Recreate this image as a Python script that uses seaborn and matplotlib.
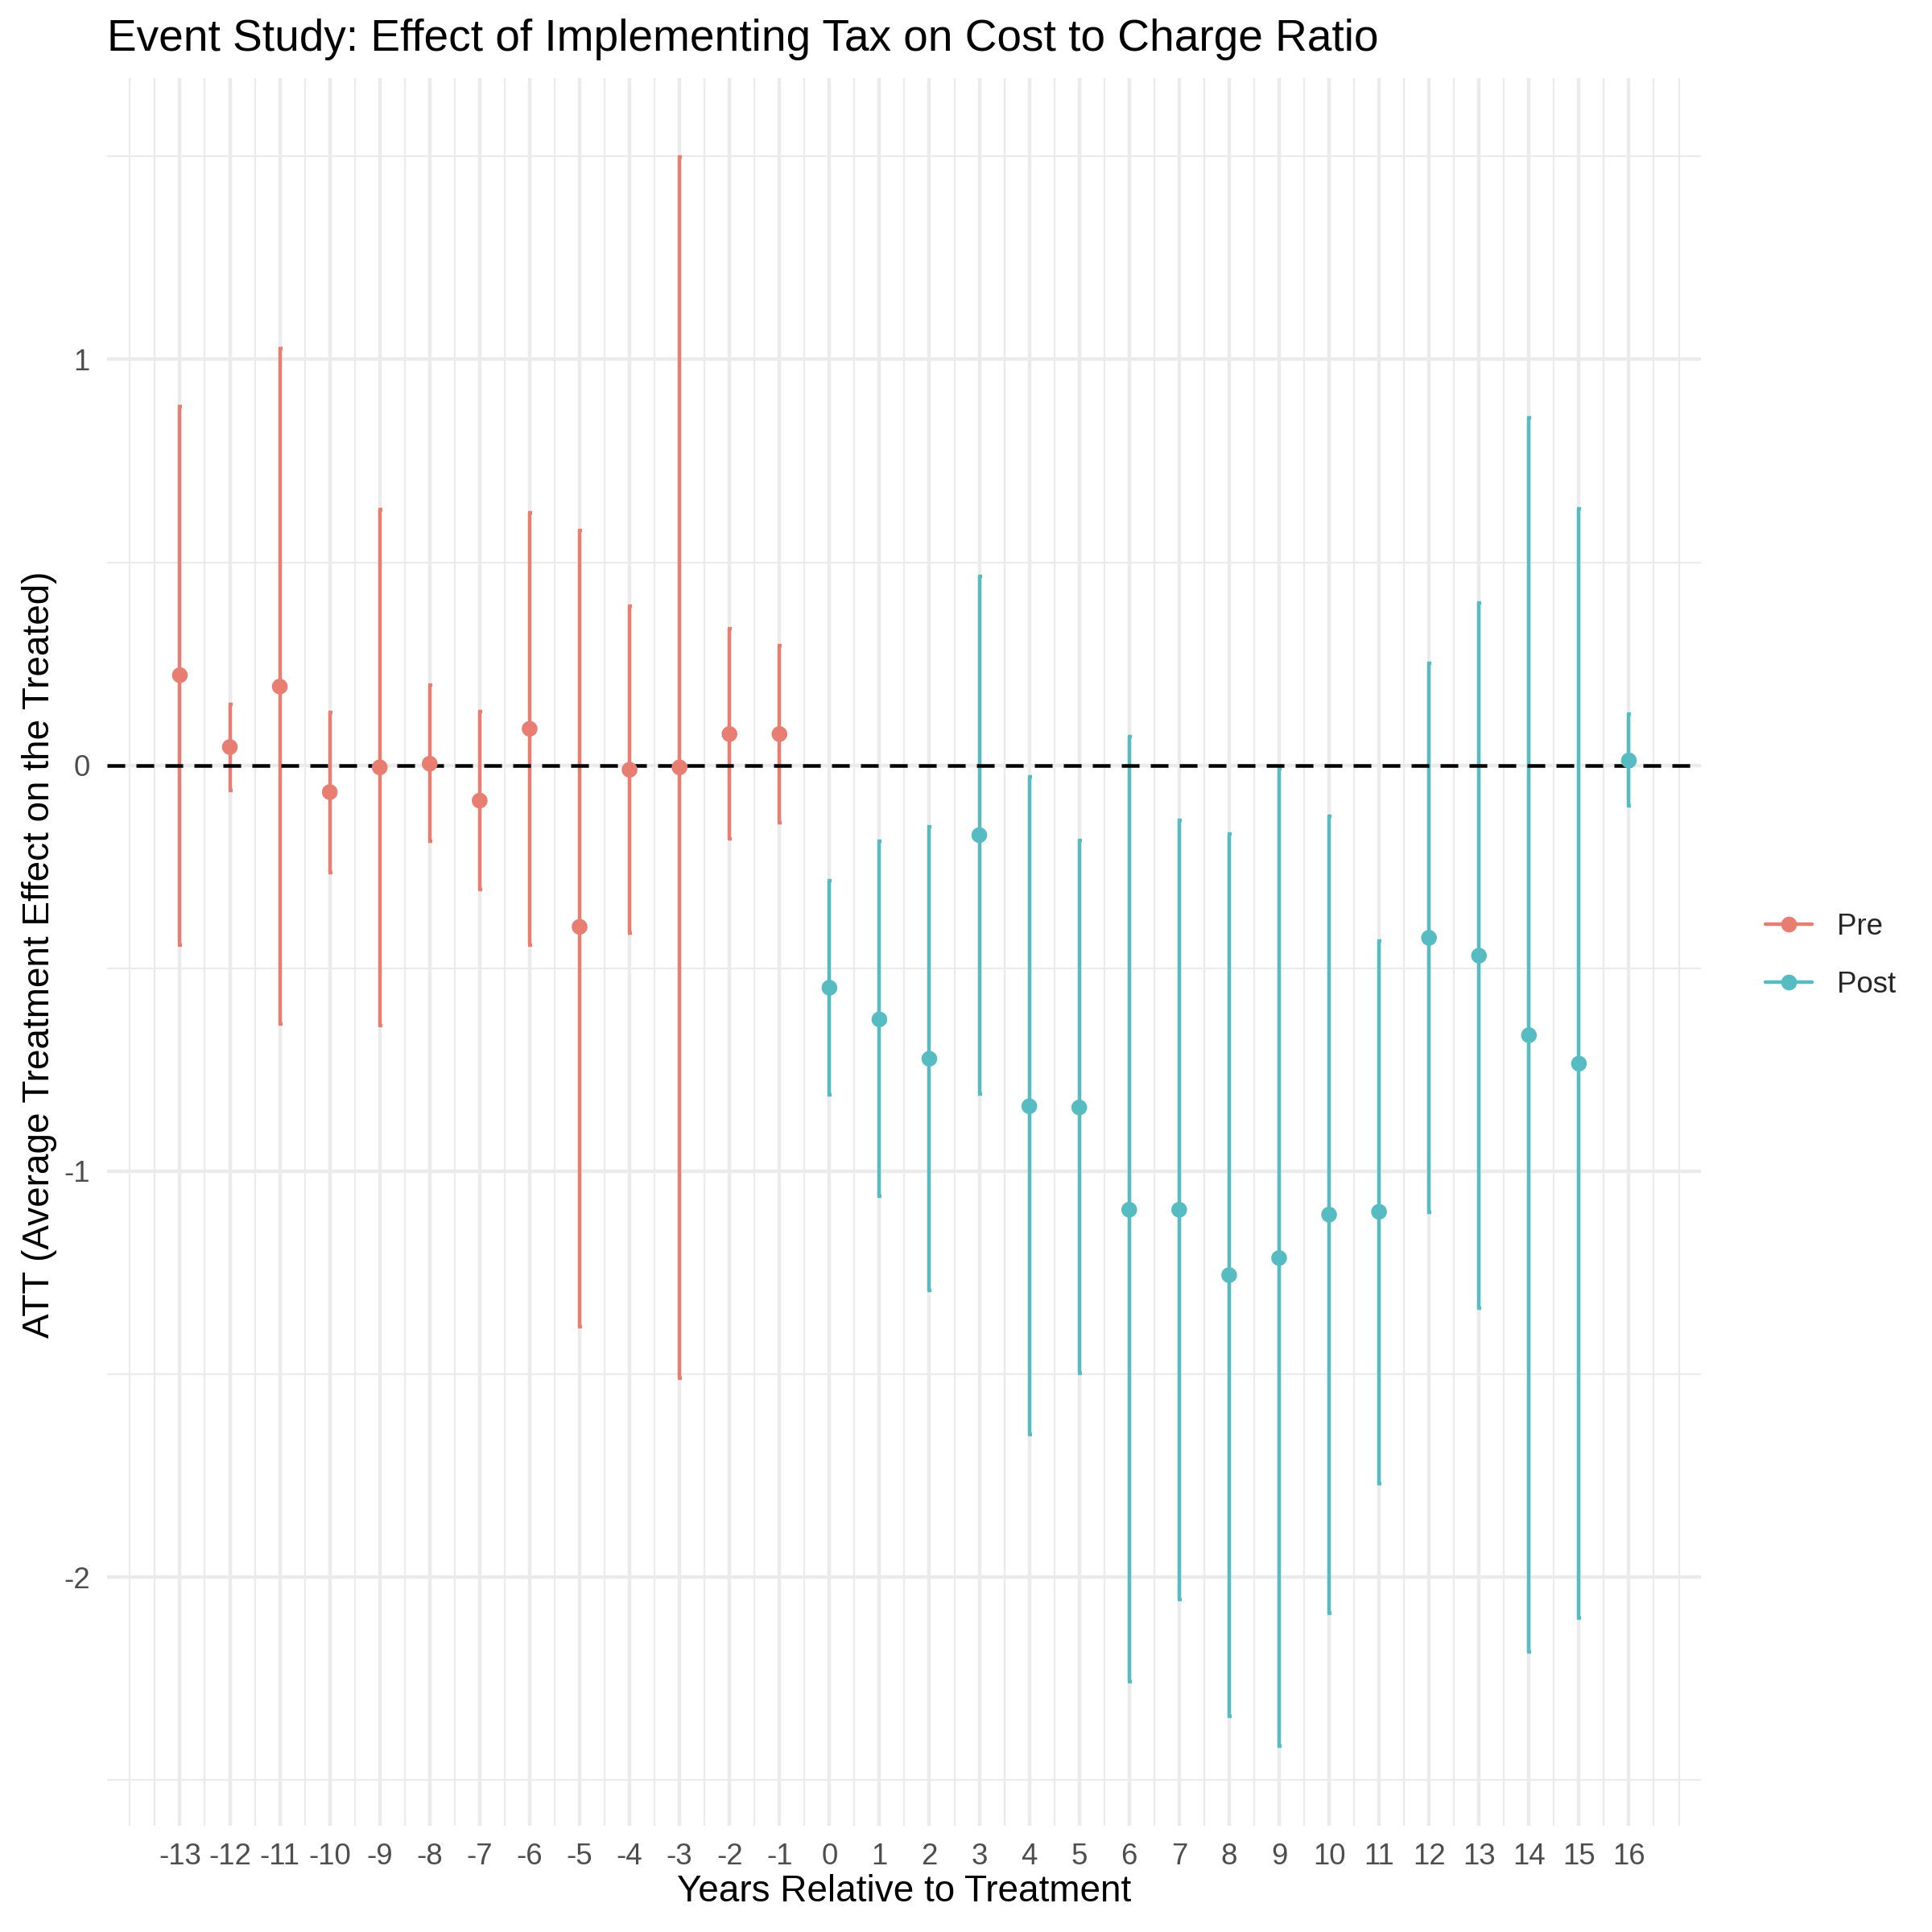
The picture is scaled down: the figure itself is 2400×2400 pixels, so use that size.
import numpy as np
import pandas as pd
import matplotlib
matplotlib.use('Agg')
import matplotlib.pyplot as plt
import seaborn as sns
from matplotlib.lines import Line2D

# event-study estimates
rel_years = [-13, -12, -11, -10, -9, -8, -7, -6, -5, -4, -3, -2, -1,
             0, 1, 2, 3, 4, 5, 6, 7, 8, 9, 10, 11, 12, 13, 14, 15, 16]
att = [0.222, 0.045, 0.194, -0.066, -0.005, 0.004, -0.087, 0.090, -0.398, -0.011, -0.005, 0.077, 0.077,
       -0.548, -0.626, -0.723, -0.172, -0.840, -0.843, -1.095, -1.095, -1.256, -1.214, -1.107, -1.100,
       -0.425, -0.469, -0.665, -0.735, 0.012]
ci_low = [-0.443, -0.063, -0.638, -0.264, -0.641, -0.187, -0.307, -0.443, -1.382, -0.413, -1.509, -0.182, -0.142,
          -0.811, -1.062, -1.294, -0.809, -1.648, -1.499, -2.258, -2.055, -2.343, -2.416, -2.090, -1.770,
          -1.101, -1.338, -2.184, -2.100, -0.099]
ci_high = [0.883, 0.151, 1.026, 0.131, 0.630, 0.197, 0.132, 0.622, 0.579, 0.392, 1.498, 0.336, 0.295,
           -0.284, -0.187, -0.152, 0.466, -0.029, -0.185, 0.070, -0.135, -0.170, -0.009, -0.126, -0.433,
           0.252, 0.401, 0.856, 0.633, 0.126]
periods = ['Pre', 'Post']
colors = {'Pre': '#E87D72', 'Post': '#56BCC2'}
x_tick_labels = [str(v) for v in rel_years]
y_ticks = [-2, -1, 0, 1]
y_tick_labels = ['-2', '-1', '0', '1']

df = pd.DataFrame({'rel_year': rel_years, 'att': att, 'lo': ci_low, 'hi': ci_high})
df['period'] = np.where(df['rel_year'] < 0, 'Pre', 'Post')

sns.set_theme(style='whitegrid')
plt.rcParams['font.family'] = ['Liberation Sans', 'DejaVu Sans']
plt.rcParams['axes.unicode_minus'] = False

fig = plt.figure(figsize=(8, 8), dpi=300)
ax = fig.add_axes([0.0556, 0.0552, 0.825, 0.9045])
ax.set_facecolor('white')

# error bars
for p in periods:
    sub = df[df['period'] == p]
    ax.errorbar(sub['rel_year'], sub['att'],
                yerr=[sub['att'] - sub['lo'], sub['hi'] - sub['att']],
                fmt='none', ecolor=colors[p], elinewidth=1.07,
                capsize=0.6, capthick=1.07, zorder=3)

ax.axhline(0, color='black', lw=1.08, linestyle=(0, (4.9, 3.1)), zorder=3.5)

sns.scatterplot(data=df, x='rel_year', y='att', hue='period', hue_order=periods,
                palette=colors, s=22, edgecolor='none', linewidth=0,
                legend=False, ax=ax, zorder=4)

# limits with 5% expansion like ggplot
xr = max(rel_years) - min(rel_years)
ax.set_xlim(min(rel_years) - 0.05 * xr, max(rel_years) + 0.05 * xr)
ymin, ymax = min(ci_low), max(ci_high)
yr = ymax - ymin
ax.set_ylim(ymin - 0.05 * yr, ymax + 0.05 * yr)

ax.set_xticks(rel_years)
ax.set_xticklabels(x_tick_labels)
ax.set_xticks([v for v in np.arange(-14, 17.5, 0.5) if v not in rel_years], minor=True)
ax.set_yticks(y_ticks)
ax.set_yticklabels(y_tick_labels)
ax.set_yticks([-2.5, -1.5, -0.5, 0.5, 1.5], minor=True)

ax.grid(which='major', color='#EBEBEB', lw=1.07)
ax.grid(which='minor', color='#EBEBEB', lw=0.53)
ax.set_axisbelow(True)
for s in ax.spines.values():
    s.set_visible(False)
ax.tick_params(which='both', length=0, pad=5.2, labelsize=8.8, colors='#4D4D4D')
ax.set_xlabel('')
ax.set_ylabel('')

fig.text(0.0556, 0.9738, 'Event Study: Effect of Implementing Tax on Cost to Charge Ratio',
         fontsize=13.2, ha='left', va='baseline', color='black')
fig.text(0.468, 0.0158, 'Years Relative to Treatment', fontsize=11,
         ha='center', va='baseline', color='black')
fig.text(0.0204, 0.506, 'ATT (Average Treatment Effect on the Treated)', fontsize=11,
         ha='center', va='center', rotation=90, color='black')

handles = [Line2D([0], [0], color=colors[p], lw=1.07, marker='o', markersize=4.7,
                  markeredgewidth=0) for p in periods]
fig.legend(handles, periods, loc='center left', bbox_to_anchor=(0.9138, 0.5052),
           frameon=False, fontsize=8.8, handlelength=1.58, handletextpad=0.85,
           labelspacing=1.0, borderaxespad=0, borderpad=0)

fig.savefig('out.png', dpi=300)
